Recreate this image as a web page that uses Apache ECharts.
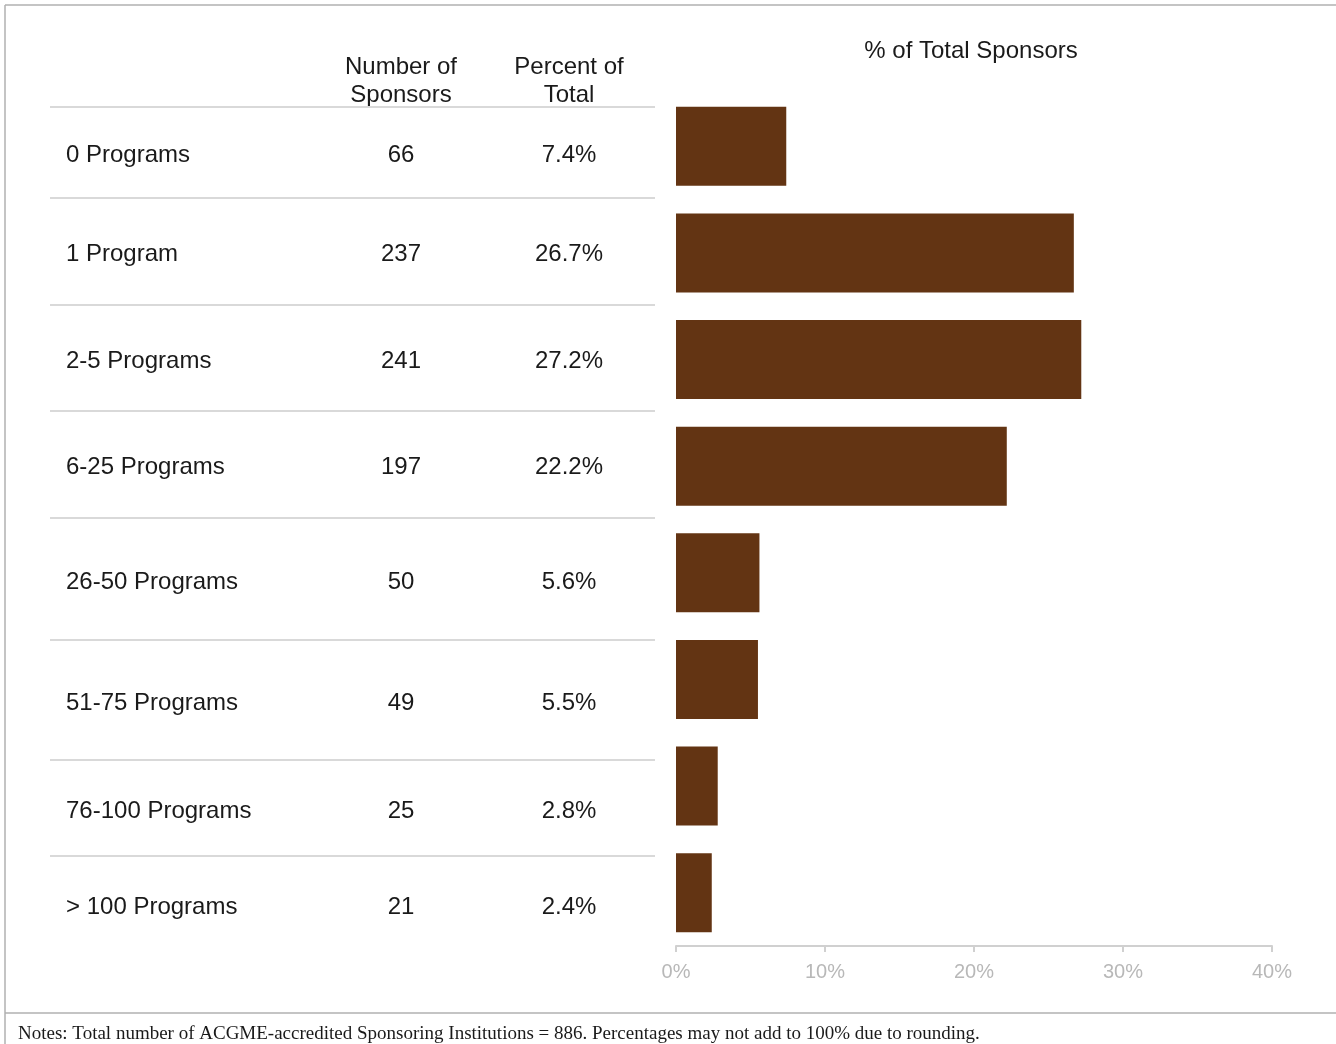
<!DOCTYPE html>
<html>
<head>
<meta charset="utf-8">
<script src="https://cdn.jsdelivr.net/npm/echarts@6/dist/echarts.min.js"></script>
<style>
  html, body { margin: 0; padding: 0; background: #fff; }
  #main { width: 1336px; height: 1044px; }
</style>
</head>
<body>
<div id="main"></div>
<script>
// 数据
var categories = ['0 Programs', '1 Program', '2-5 Programs', '6-25 Programs',
  '26-50 Programs', '51-75 Programs', '76-100 Programs', '> 100 Programs'];
var sponsorCounts = [66, 237, 241, 197, 50, 49, 25, 21];
var percentLabels = ['7.4%', '26.7%', '27.2%', '22.2%', '5.6%', '5.5%', '2.8%', '2.4%'];
var percentValues = [7.4, 26.7, 27.2, 22.2, 5.6, 5.5, 2.8, 2.4];

// 表格布局（行中心和分隔线）
var rowY = [155, 254, 361, 467, 582, 703, 811, 907];
var lineY = [107, 198, 305, 411, 518, 640, 760, 856];

var chart = echarts.init(document.getElementById('main'));

var sans = '"Liberation Sans", Arial, sans-serif';
var graphics = [];

// 外框
graphics.push({ type: 'line', shape: { x1: 5, y1: 5, x2: 1336, y2: 5 }, style: { stroke: '#b0b0b0', lineWidth: 1.5 } });
graphics.push({ type: 'line', shape: { x1: 5, y1: 5, x2: 5, y2: 1044 }, style: { stroke: '#b0b0b0', lineWidth: 1.5 } });
graphics.push({ type: 'line', shape: { x1: 5, y1: 1013, x2: 1336, y2: 1013 }, style: { stroke: '#b0b0b0', lineWidth: 1.5 } });

// 表头
var headers = [
  { x: 401, lines: ['Number of', 'Sponsors'] },
  { x: 569, lines: ['Percent of', 'Total'] }
];
headers.forEach(function (h) {
  h.lines.forEach(function (t, i) {
    graphics.push({
      type: 'text', x: h.x, y: 67 + i * 28,
      style: { text: t, font: '24px ' + sans, fill: '#1a1a1a', align: 'center', verticalAlign: 'middle' }
    });
  });
});

lineY.forEach(function (y) {
  graphics.push({ type: 'line', shape: { x1: 50, y1: y, x2: 655, y2: y }, style: { stroke: '#d9d9d9', lineWidth: 2 } });
});

categories.forEach(function (c, i) {
  graphics.push({ type: 'text', x: 66, y: rowY[i],
    style: { text: c, font: '24px ' + sans, fill: '#1a1a1a', align: 'left', verticalAlign: 'middle' } });
  graphics.push({ type: 'text', x: 401, y: rowY[i],
    style: { text: String(sponsorCounts[i]), font: '24px ' + sans, fill: '#1a1a1a', align: 'center', verticalAlign: 'middle' } });
  graphics.push({ type: 'text', x: 569, y: rowY[i],
    style: { text: percentLabels[i], font: '24px ' + sans, fill: '#1a1a1a', align: 'center', verticalAlign: 'middle' } });
});

// 注释
graphics.push({ type: 'text', x: 18, y: 1034,
  style: { text: 'Notes: Total number of ACGME-accredited Sponsoring Institutions = 886. Percentages may not add to 100% due to rounding.',
    font: '19px "Liberation Serif", "Times New Roman", serif', fill: '#1a1a1a', align: 'left', verticalAlign: 'middle' } });

// 右侧标题
graphics.push({ type: 'text', x: 971, y: 51,
  style: { text: '% of Total Sponsors', font: '24px ' + sans, fill: '#1a1a1a', align: 'center', verticalAlign: 'middle' } });

var option = {
  backgroundColor: '#fff',
  animation: false,
  grid: { left: 676, right: 64, top: 93, bottom: 98, containLabel: false },
  xAxis: {
    type: 'value', min: 0, max: 40, interval: 10,
    axisLine: { show: true, lineStyle: { color: '#d0d0d0', width: 2 } },
    axisTick: { show: true, length: 6, lineStyle: { color: '#d0d0d0', width: 2 } },
    splitLine: { show: false },
    axisLabel: { formatter: '{value}%', color: '#b8b8b8', fontSize: 20, fontFamily: sans, margin: 16 }
  },
  yAxis: {
    type: 'category', data: categories, inverse: true, show: false
  },
  series: [{
    type: 'bar', data: percentValues, barWidth: 79,
    itemStyle: { color: '#633413' }
  }],
  graphic: graphics
};
chart.setOption(option);
</script>
</body>
</html>
